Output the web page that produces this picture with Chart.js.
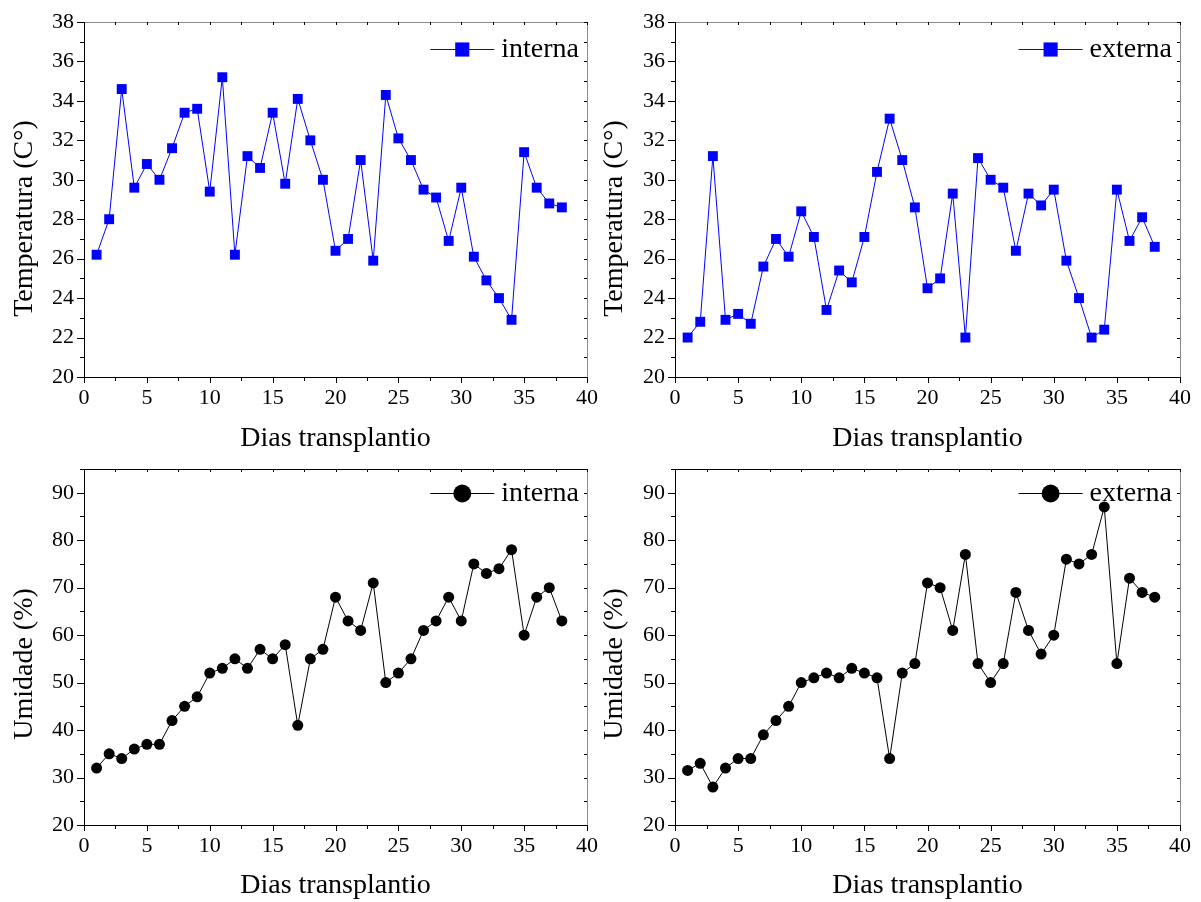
<!DOCTYPE html>
<html>
<head>
<meta charset="utf-8">
<title>Temperatura e umidade</title>
<script src="https://cdn.jsdelivr.net/npm/chart.js@4.4.0/dist/chart.umd.min.js"></script>
<style>
  html, body { margin: 0; padding: 0; background: #fff; }
  #wrap { position: relative; width: 1201px; height: 902px; overflow: hidden; }
  #wrap canvas { position: absolute; }
</style>
</head>
<body>
<div id="wrap">
  <canvas id="tempInt" width="600" height="470" style="left:0;top:0"></canvas>
  <canvas id="tempExt" width="601" height="470" style="left:600px;top:0"></canvas>
  <canvas id="umidInt" width="600" height="462" style="left:0;top:440px"></canvas>
  <canvas id="umidExt" width="601" height="462" style="left:600px;top:440px"></canvas>
</div>
<script>
// dias apos o transplantio
var dias = [1, 2, 3, 4, 5, 6, 7, 8, 9, 10, 11, 12, 13, 14, 15, 16, 17, 18, 19, 20,
  21, 22, 23, 24, 25, 26, 27, 28, 29, 30, 31, 32, 33, 34, 35, 36, 37, 38];

var tempInterna = [26.2, 28.0, 34.6, 29.6, 30.8, 30.0, 31.6, 33.4, 33.6, 29.4,
  35.2, 26.2, 31.2, 30.6, 33.4, 29.8, 34.1, 32.0, 30.0, 26.4,
  27.0, 31.0, 25.9, 34.3, 32.1, 31.0, 29.5, 29.1, 26.9, 29.6,
  26.1, 24.9, 24.0, 22.9, 31.4, 29.6, 28.8, 28.6];

var tempExterna = [22.0, 22.8, 31.2, 22.9, 23.2, 22.7, 25.6, 27.0, 26.1, 28.4,
  27.1, 23.4, 25.4, 24.8, 27.1, 30.4, 33.1, 31.0, 28.6, 24.5,
  25.0, 29.3, 22.0, 31.1, 30.0, 29.6, 26.4, 29.3, 28.7, 29.5,
  25.9, 24.0, 22.0, 22.4, 29.5, 26.9, 28.1, 26.6];

var umidInterna = [32, 35, 34, 36, 37, 37, 42, 45, 47, 52,
  53, 55, 53, 57, 55, 58, 41, 55, 57, 68,
  63, 61, 71, 50, 52, 55, 61, 63, 68, 63,
  75, 73, 74, 78, 60, 68, 70, 63];

var umidExterna = [31.5, 33, 28, 32, 34, 34, 39, 42, 45, 50,
  51, 52, 51, 53, 52, 51, 34, 52, 54, 71,
  70, 61, 77, 54, 50, 54, 69, 61, 56, 60,
  76, 75, 77, 87, 54, 72, 69, 68];

var xTicks = [0, 5, 10, 15, 20, 25, 30, 35, 40];
var tempTicks = [20, 22, 24, 26, 28, 30, 32, 34, 36, 38];
var umidTicks = [20, 30, 40, 50, 60, 70, 80, 90];

var SERIF = "'Liberation Serif', 'Times New Roman', serif";
Chart.defaults.font.family = SERIF;
Chart.defaults.color = '#000';

function pairs(xs, ys) {
  return xs.map(function (x, i) { return { x: x, y: ys[i] }; });
}

// moldura do grafico com marcas principais e secundarias
var frameTicks = {
  id: 'frameTicks',
  afterDatasetsDraw: function (chart, args, opts) {
    var ctx = chart.ctx;
    var a = chart.chartArea;
    var xs = chart.scales.x;
    var ys = chart.scales.y;
    var v, px, py;

    ctx.save();
    ctx.lineWidth = 1;

    // bordas esquerda e inferior
    ctx.strokeStyle = '#000';
    ctx.beginPath();
    ctx.moveTo(a.left + 0.5, a.top);
    ctx.lineTo(a.left + 0.5, a.bottom + 0.5);
    ctx.lineTo(a.right, a.bottom + 0.5);
    ctx.stroke();

    ctx.strokeStyle = opts.topColor;
    ctx.beginPath();
    ctx.moveTo(a.left, a.top + 0.5);
    ctx.lineTo(a.right + 0.5, a.top + 0.5);
    ctx.stroke();

    ctx.strokeStyle = opts.rightColor;
    ctx.beginPath();
    ctx.moveTo(a.right + 0.5, a.top);
    ctx.lineTo(a.right + 0.5, a.bottom + 0.5);
    ctx.stroke();

    ctx.strokeStyle = '#000';
    ctx.beginPath();
    for (v = xs.min; v <= xs.max + 1e-6; v += opts.xMinor) {
      px = Math.round(xs.getPixelForValue(v)) + 0.5;
      var major = Math.abs(v % 5) < 1e-6;
      var len = major ? 6 : 4;
      ctx.moveTo(px, a.bottom);
      ctx.lineTo(px, a.bottom + len);
      ctx.moveTo(px, a.top);
      ctx.lineTo(px, a.top + 3);
    }
    for (v = ys.min; v <= ys.max + 1e-6; v += opts.yMinor) {
      py = Math.round(ys.getPixelForValue(v)) + 0.5;
      var onMajor = Math.abs((v - ys.min) % opts.yMajor) < 1e-6;
      var ylen = onMajor ? 7 : 4;
      ctx.moveTo(a.left, py);
      ctx.lineTo(a.left - ylen, py);
      ctx.moveTo(a.right, py);
      ctx.lineTo(a.right - 3, py);
    }
    ctx.stroke();
    ctx.restore();
  }
};

// titulo do eixo y, girado, um pouco abaixo do centro da area
var yAxisTitle = {
  id: 'yAxisTitle',
  afterDraw: function (chart, args, opts) {
    var ctx = chart.ctx;
    var a = chart.chartArea;
    ctx.save();
    ctx.translate(opts.x, (a.top + a.bottom) / 2 + opts.dy);
    ctx.rotate(-Math.PI / 2);
    ctx.font = '28px ' + SERIF;
    ctx.fillStyle = '#000';
    ctx.textAlign = 'center';
    ctx.textBaseline = 'middle';
    ctx.fillText(opts.text, 0, 0);
    ctx.restore();
  }
};

// legenda no canto superior direito: linha + marcador + texto
var cornerLegend = {
  id: 'cornerLegend',
  afterDraw: function (chart, args, opts) {
    var ctx = chart.ctx;
    var a = chart.chartArea;
    var ds = chart.data.datasets[0];
    ctx.save();
    ctx.font = '28px ' + SERIF;
    var tw = ctx.measureText(ds.label).width;
    var textLeft = a.right - 8 - tw;
    var y = a.top + opts.dy;
    var x1 = textLeft - 7;
    var x0 = x1 - 64;

    ctx.strokeStyle = ds.borderColor;
    ctx.lineWidth = 1;
    ctx.beginPath();
    ctx.moveTo(x0, y + 0.5);
    ctx.lineTo(x1, y + 0.5);
    ctx.stroke();

    ctx.fillStyle = ds.backgroundColor;
    Chart.helpers.drawPoint(ctx, {
      pointStyle: ds.pointStyle,
      radius: opts.radius,
      rotation: 0,
      borderWidth: 0
    }, (x0 + x1) / 2, y + 0.5);

    ctx.fillStyle = '#000';
    ctx.textBaseline = 'middle';
    ctx.textAlign = 'left';
    ctx.fillText(ds.label, textLeft, y + 1);
    ctx.restore();
  }
};

function panel(id, p) {
  return new Chart(document.getElementById(id), {
    type: 'line',
    data: {
      datasets: [{
        label: p.label,
        data: pairs(dias, p.values),
        borderColor: p.color,
        backgroundColor: p.color,
        borderWidth: 1,
        pointStyle: p.pointStyle,
        pointRadius: p.pointRadius,
        pointBorderWidth: 0,
        pointHoverRadius: p.pointRadius,
        tension: 0,
        fill: false
      }]
    },
    options: {
      responsive: false,
      animation: false,
      events: [],
      layout: { padding: p.padding },
      plugins: {
        legend: { display: false },
        tooltip: { enabled: false },
        frameTicks: {
          xMinor: 2.5,
          yMinor: p.yMinor,
          yMajor: p.yMajor,
          topColor: p.topColor,
          rightColor: '#8a8a8a'
        },
        yAxisTitle: { text: p.yTitle, x: p.yTitleX, dy: p.yTitleDy },
        cornerLegend: { dy: p.legendDy, radius: p.legendRadius }
      },
      scales: {
        x: {
          type: 'linear',
          min: 0,
          max: 40,
          afterBuildTicks: function (s) {
            s.ticks = xTicks.map(function (v) { return { value: v }; });
          },
          afterFit: function (s) { s.height = p.xHeight; },
          grid: { display: false, drawTicks: true, tickLength: 6 },
          border: { display: false },
          ticks: {
            autoSkip: false,
            maxRotation: 0,
            padding: 2,
            color: '#000',
            font: { family: SERIF, size: 22 }
          },
          title: {
            display: true,
            text: 'Dias transplantio',
            color: '#000',
            font: { family: SERIF, size: 28 },
            padding: { top: 0, bottom: p.xTitlePad }
          }
        },
        y: {
          type: 'linear',
          min: p.yMin,
          max: p.yMax,
          afterBuildTicks: function (s) {
            s.ticks = p.yTicks.map(function (v) { return { value: v }; });
          },
          afterFit: function (s) { s.width = p.yWidth; },
          grid: { display: false, drawTicks: true, tickLength: 7 },
          border: { display: false },
          ticks: {
            autoSkip: false,
            padding: 3,
            color: '#000',
            font: { family: SERIF, size: 22 }
          },
          title: { display: false }
        }
      }
    },
    plugins: [frameTicks, yAxisTitle, cornerLegend]
  });
}

var azul = '#0000ff';
var preto = '#000000';

panel('tempInt', {
  label: 'interna', values: tempInterna, color: azul,
  pointStyle: 'rect', pointRadius: 7, legendRadius: 10, legendDy: 27,
  yMin: 20, yMax: 38, yTicks: tempTicks, yMinor: 1, yMajor: 2,
  yTitle: 'Temperatura (C°)', yTitleX: 25, yTitleDy: 19, yWidth: 84,
  xHeight: 93, xTitlePad: 15, topColor: '#8a8a8a',
  padding: { top: 22, right: 10, bottom: 0, left: 0 }
});

panel('tempExt', {
  label: 'externa', values: tempExterna, color: azul,
  pointStyle: 'rect', pointRadius: 7, legendRadius: 10, legendDy: 27,
  yMin: 20, yMax: 38, yTicks: tempTicks, yMinor: 1, yMajor: 2,
  yTitle: 'Temperatura (C°)', yTitleX: 15, yTitleDy: 19, yWidth: 75,
  xHeight: 93, xTitlePad: 15, topColor: '#8a8a8a',
  padding: { top: 22, right: 21, bottom: 0, left: 0 }
});

panel('umidInt', {
  label: 'interna', values: umidInterna, color: preto,
  pointStyle: 'circle', pointRadius: 5.5, legendRadius: 9, legendDy: 24,
  yMin: 20, yMax: 95, yTicks: umidTicks, yMinor: 5, yMajor: 10,
  yTitle: 'Umidade (%)', yTitleX: 25, yTitleDy: 17, yWidth: 84,
  xHeight: 77, xTitlePad: 0, topColor: '#000',
  padding: { top: 29, right: 10, bottom: 0, left: 0 }
});

panel('umidExt', {
  label: 'externa', values: umidExterna, color: preto,
  pointStyle: 'circle', pointRadius: 5.5, legendRadius: 9, legendDy: 24,
  yMin: 20, yMax: 95, yTicks: umidTicks, yMinor: 5, yMajor: 10,
  yTitle: 'Umidade (%)', yTitleX: 15, yTitleDy: 17, yWidth: 75,
  xHeight: 77, xTitlePad: 0, topColor: '#000',
  padding: { top: 29, right: 21, bottom: 0, left: 0 }
});
</script>
</body>
</html>
